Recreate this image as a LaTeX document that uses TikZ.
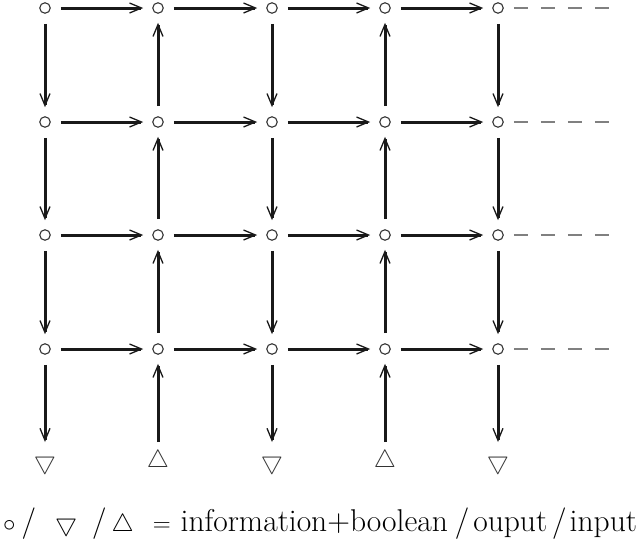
\documentclass[tikz,border=0pt]{standalone}
\usetikzlibrary{arrows.meta}
\begin{document}
\begin{tikzpicture}[x=1pt,y=-1pt,
  pt/.style={circle,draw=black!80,line width=1.1pt,minimum size=10.5pt,inner sep=0pt},
  link/.style={line width=3pt,draw=black!90,
    -{Straight Barb[length=12pt,width=10pt,line width=1.3pt]},
    shorten <=10pt, shorten >=9pt},
  dashline/.style={line width=2.6pt,draw=black!50,dash pattern=on 14pt off 13pt,shorten <=10pt},
  tri/.style={inner sep=0pt,font=\fontsize{30}{34}\selectfont,text=black!80},
  legend/.style={inner sep=0pt,font=\fontsize{31.5}{36}\selectfont,anchor=base west}
]
\useasboundingbox (0,0) rectangle (642,552);
\foreach \c/\x in {1/45,2/158,3/272,4/385,5/498}{
  \foreach \r/\y in {1/8,2/122,3/235,4/349}{
    \node[pt] (n\r\c) at (\x,\y) {};
  }
}
% bottom inputs/outputs
\node[tri,anchor=north] (b1) at (45,452) {$\bigtriangledown$};
\node[tri,anchor=north] (b2) at (158,450) {$\bigtriangleup$};
\node[tri,anchor=north] (b3) at (272,452) {$\bigtriangledown$};
\node[tri,anchor=north] (b4) at (385,450) {$\bigtriangleup$};
\node[tri,anchor=north] (b5) at (498,452) {$\bigtriangledown$};
% horizontal
\foreach \r in {1,2,3,4}{
  \foreach \c/\d in {1/2,2/3,3/4,4/5}{
    \draw[link] (n\r\c) -- (n\r\d);
  }
}
% vertical
\foreach \r/\s in {1/2,2/3,3/4}{
  \foreach \c in {1,3,5}{ \draw[link] (n\r\c) -- (n\s\c); }
  \foreach \c in {2,4}{ \draw[link] (n\s\c) -- (n\r\c); }
}
\foreach \c in {1,3,5}{ \draw[link,shorten >=10pt] (n4\c) -- (b\c.north); }
\foreach \c in {2,4}{ \draw[link,shorten <=8pt] (b\c.north) -- (n4\c); }
% dashed continuation
\foreach \r/\y in {1/8,2/122,3/235,4/349}{
  \coordinate (d\r) at (614,\y);
  \draw[dashline] (n\r5) -- (d\r);
}
\node[legend] (leg) at (3,531) {$\circ$\hspace{6pt}/\hspace{19pt}$\bigtriangledown$\hspace{15pt}/\hspace{5pt}$\bigtriangleup$\hspace{19pt}$=$\hspace{10pt}information+boolean\hspace{7pt}/\hspace{4pt}ouput\hspace{5pt}/\hspace{3pt}input};
\end{tikzpicture}
\end{document}
